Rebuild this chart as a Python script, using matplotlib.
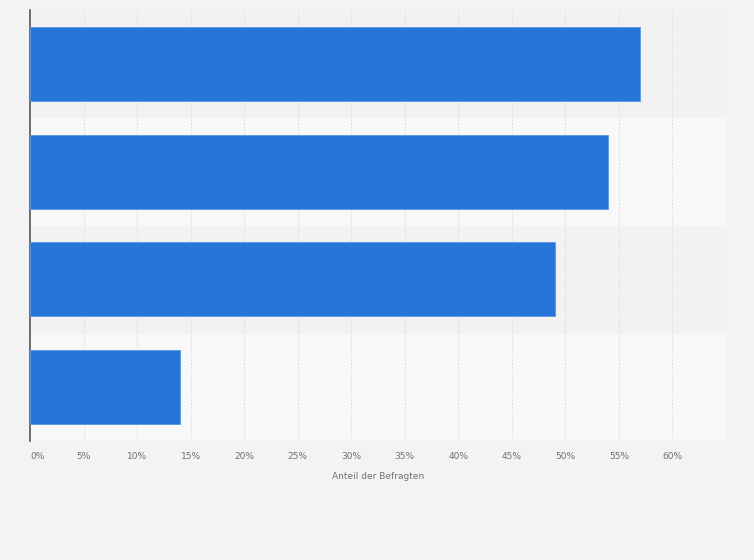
import matplotlib
matplotlib.use("Agg")
import matplotlib.pyplot as plt
import numpy as np

# values (share of respondents, %)
categories = ["A", "B", "C", "D"]
values = [57, 54, 49, 14]
tick_values = list(range(0, 65, 5))
tick_labels = [f"{t}%" for t in tick_values]

fig = plt.figure(figsize=(7.54, 5.60), dpi=100)
fig.patch.set_facecolor("#f3f3f3")
ax = fig.add_axes([30 / 754, 119 / 560, 696 / 754, 431 / 560])
ax.set_facecolor("#f3f3f3")

y = np.arange(len(categories))

# alternating row bands
for i in y:
    ax.axhspan(i - 0.5, i + 0.5, color="#f2f2f2" if i % 2 == 0 else "#f8f8f8", zorder=0)

ax.barh(y, values, height=0.685, color="#2676d9", edgecolor="#5c97e2",
        linewidth=0.6, zorder=3)

ax.set_xlim(0, 65)
ax.set_ylim(len(categories) - 0.5, -0.5)

# dotted vertical grid
for t in tick_values[1:] + [65]:
    ax.axvline(t, color="#dddddd", linestyle=(0, (1.5, 1.5)), linewidth=0.8, zorder=1)

ax.set_xticks(tick_values)
ax.set_xticklabels(tick_labels, fontsize=6.5, color="#707070")
ax.get_xticklabels()[0].set_horizontalalignment("left")
ax.tick_params(axis="x", length=0, pad=8)
ax.set_yticks([])

for s in ["top", "right", "bottom"]:
    ax.spines[s].set_visible(False)
ax.spines["left"].set_color("#555555")
ax.spines["left"].set_linewidth(1.2)

ax.set_xlabel("Anteil der Befragten", fontsize=6.5, color="#707070", labelpad=7.5)

fig.savefig("out.png", dpi=100, facecolor=fig.get_facecolor())
